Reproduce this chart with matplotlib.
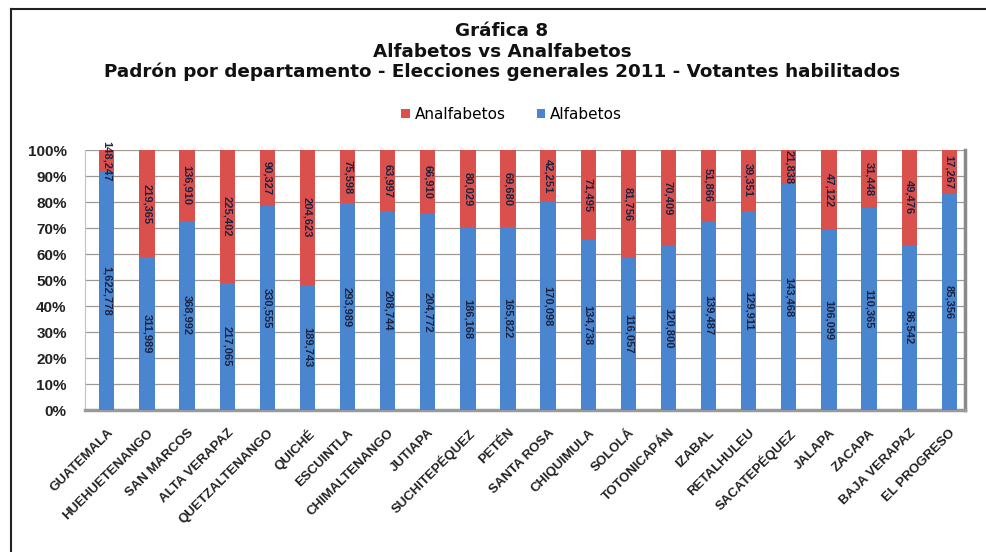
import numpy as np
import matplotlib
matplotlib.use('Agg')
import matplotlib.pyplot as plt
from matplotlib.lines import Line2D

departamentos = ['GUATEMALA', 'HUEHUETENANGO', 'SAN MARCOS', 'ALTA VERAPAZ', 'QUETZALTENANGO',
                 'QUICHÉ', 'ESCUINTLA', 'CHIMALTENANGO', 'JUTIAPA', 'SUCHITEPÉQUEZ', 'PETÉN',
                 'SANTA ROSA', 'CHIQUIMULA', 'SOLOLÁ', 'TOTONICAPÁN', 'IZABAL', 'RETALHULEU',
                 'SACATEPÉQUEZ', 'JALAPA', 'ZACAPA', 'BAJA VERAPAZ', 'EL PROGRESO']
alfabetos = [1622778, 311989, 368992, 217065, 330555, 189743, 293989, 208744, 204772, 186168,
             165822, 170098, 134738, 116057, 120800, 139487, 129911, 143468, 106099, 110365,
             86542, 85356]
analfabetos = [148247, 219365, 136910, 225402, 90327, 204623, 75598, 63997, 66910, 80029,
               69680, 42251, 71495, 81756, 70409, 51866, 39351, 21838, 47122, 31448,
               49476, 17267]

azul = '#4a85cf'
rojo = '#d9504d'
fuente = 'Liberation Sans'

alf = np.array(alfabetos, dtype=float)
anal = np.array(analfabetos, dtype=float)
total = alf + anal
p_alf = alf / total
p_anal = anal / total
x = np.arange(len(departamentos))

fig = plt.figure(figsize=(9.86, 5.52), dpi=100)
ax = fig.add_axes([0.086, 0.257, 0.893, 0.471])

ax.bar(x, p_alf, width=0.38, color=azul, label='Alfabetos', zorder=3)
ax.bar(x, p_anal, width=0.38, bottom=p_alf, color=rojo, label='Analfabetos', zorder=3)

# etiquetas de datos
for i in range(len(x)):
    ax.text(x[i], p_alf[i] / 2, f'{alfabetos[i]:,}', rotation=270, ha='center', va='center',
            fontsize=8, fontweight='bold', family=fuente, color='#1c2340', zorder=4)
    ax.text(x[i], p_alf[i] + p_anal[i] / 2, f'{analfabetos[i]:,}', rotation=270, ha='center',
            va='center', fontsize=8, fontweight='bold', family=fuente, color='#1c2340', zorder=4)

ax.set_xlim(-0.55, 21.4)
ax.set_ylim(0, 1)
ax.set_yticks(np.arange(0, 1.01, 0.1))
ax.set_yticklabels([f'{int(round(v * 100))}%' for v in np.arange(0, 1.01, 0.1)],
                   fontsize=11, fontweight='bold', family=fuente, color='#222222')
ax.set_xticks(x)
ax.set_xticklabels(departamentos, rotation=45, ha='right', rotation_mode='anchor',
                   fontsize=9.5, fontweight='bold', family=fuente, color='#222222')
ax.tick_params(axis='x', length=0, pad=12)
ax.tick_params(axis='y', length=0, pad=13)
ax.grid(axis='y', color='#a09890', linewidth=0.9, zorder=0)
ax.spines['top'].set_visible(False)
ax.spines['left'].set_color('#c8bfb8')
ax.spines['bottom'].set_color('#9a9a9a')
ax.spines['bottom'].set_linewidth(2.5)
ax.spines['right'].set_color('#8a8a8a')
ax.spines['right'].set_linewidth(2.5)

handles, labels = ax.get_legend_handles_labels()
fig.legend(handles[::-1], labels[::-1], loc='center', bbox_to_anchor=(0.519, 0.793), ncol=2,
           frameon=False, fontsize=11, handlelength=0.55, handleheight=0.55,
           handletextpad=0.35, columnspacing=2.0)

titulos = ['Gráfica 8', 'Alfabetos vs Analfabetos',
           'Padrón por departamento - Elecciones generales 2011 - Votantes habilitados']
for k, t in enumerate(titulos):
    fig.text(0.509, 0.943 - k * 0.0365, t, ha='center', va='center', fontsize=13.2,
             fontweight='bold', color='#111111')

# marco
fig.add_artist(Line2D([0.011, 1.0], [0.983, 0.983], color='#222222', linewidth=1.5))
fig.add_artist(Line2D([0.011, 0.011], [0.0, 0.983], color='#222222', linewidth=1.5))

fig.savefig('out.png', dpi=100)
